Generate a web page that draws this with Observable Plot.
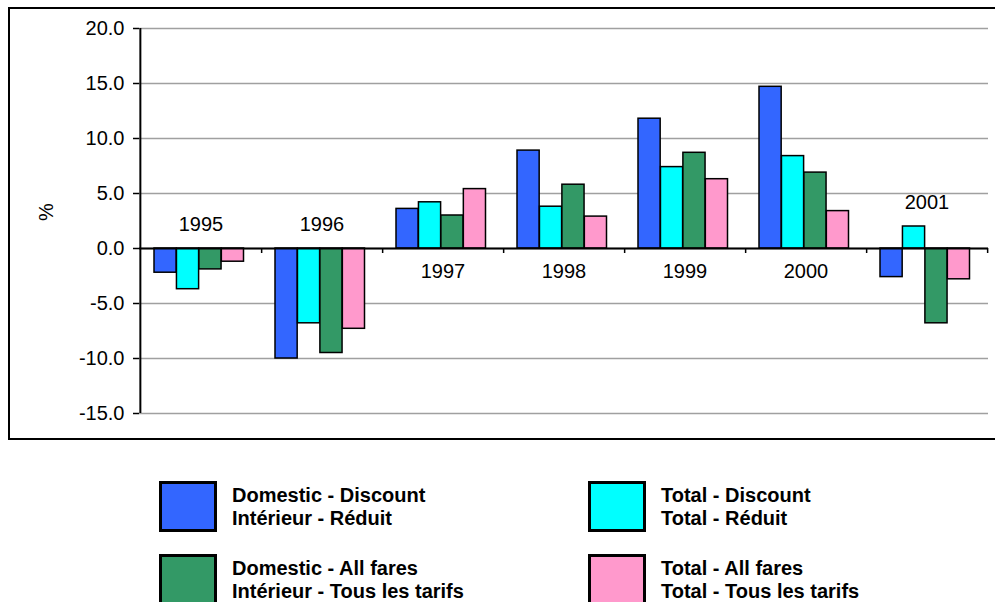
<!DOCTYPE html>
<html>
<head>
<meta charset="utf-8">
<script src="https://cdn.jsdelivr.net/npm/d3@7"></script>
<script src="https://cdn.jsdelivr.net/npm/@observablehq/plot@0.6"></script>
<style>
  html, body { margin: 0; padding: 0; background: #fff; }
  body { width: 995px; height: 602px; position: relative; overflow: hidden; font-family: "Liberation Sans", Arial, sans-serif; }
  #frame { position: absolute; left: 8px; top: 7px; width: 1000px; height: 429px; border: 2px solid #000; border-right: none; box-sizing: content-box; }
  #chart { position: absolute; left: 0; top: 0; }
  .sw { position: absolute; width: 58px; height: 51px; box-sizing: border-box; border: 3px solid #000; }
  .lt { position: absolute; font-weight: bold; font-size: 20px; line-height: 23.3px; color: #000; white-space: nowrap; }
</style>
</head>
<body>
<div id="frame"></div>
<div id="chart"></div>
<div id="legend"></div>
<script>
// ---- data ----
const years = ["1995", "1996", "1997", "1998", "1999", "2000", "2001"];
const domesticDiscount = [-2.2, -10.0, 3.6, 8.9, 11.8, 14.7, -2.6];
const totalDiscount    = [-3.7, -6.8, 4.2, 3.8, 7.4, 8.4, 2.0];
const domesticAllFares = [-1.9, -9.5, 3.0, 5.8, 8.7, 6.9, -6.8];
const totalAllFares    = [-1.2, -7.3, 5.4, 2.9, 6.3, 3.4, -2.8];
const seriesNames = ["Domestic - Discount", "Total - Discount", "Domestic - All fares", "Total - All fares"];
const seriesLabelsEn = ["Domestic - Discount", "Total - Discount", "Domestic - All fares", "Total - All fares"];
const seriesLabelsFr = ["Intérieur - Réduit", "Total - Réduit", "Intérieur - Tous les tarifs", "Total - Tous les tarifs"];
const seriesColors = ["#3366FF", "#00FFFF", "#339966", "#FF99CC"];
const yTicks = [-15, -10, -5, 0, 5, 10, 15, 20];
const yAxisLabel = "%";

// ---- build table ----
const seriesValues = [domesticDiscount, totalDiscount, domesticAllFares, totalAllFares];
const rows = [];
seriesValues.forEach((vals, s) => vals.forEach((v, i) => rows.push({year: years[i], series: seriesNames[s], si: s, value: v})));

const groups = years.map((y, i) => {
  const vals = seriesValues.map(a => a[i]);
  return {year: y, min: d3.min(vals), max: d3.max(vals)};
});
const above = groups.filter(g => g.min < 0).map(g => ({year: g.year, y: Math.max(0, g.max)}));
const below = groups.filter(g => g.min >= 0).map(g => ({year: g.year, y: 0}));

// ---- layout ----
const W = 995, H = 445, mL = 139, mR = 7, mT = 28, mB = 32;
const bw = (W - mL - mR) / years.length;
const padL = 14, padR = 17.5;
const barW = (bw - padL - padR) / 4;

const barMarks = seriesNames.map((name, s) =>
  Plot.barY(rows.filter(r => r.si === s), {
    x: "year", y: "value",
    fill: seriesColors[s], stroke: "#000", strokeWidth: 1.5,
    insetLeft: padL + s * barW,
    insetRight: bw - padL - (s + 1) * barW
  })
);

const chart = Plot.plot({
  width: W, height: H,
  marginLeft: mL, marginRight: mR, marginTop: mT, marginBottom: mB,
  style: {fontFamily: "'Liberation Sans', Arial, sans-serif", fontSize: "20px", background: "transparent", color: "#000", overflow: "visible"},
  x: {domain: years, padding: 0, axis: null},
  y: {domain: [-15, 20], axis: null},
  marks: [
    Plot.ruleY(yTicks, {stroke: "#a0a0a0", strokeWidth: 1.5}),
    ...barMarks,
    Plot.ruleY([0], {stroke: "#000", strokeWidth: 2}),
    Plot.ruleX(years, {x: d => d, y1: 0, y2: 0, insetBottom: -5, dx: bw / 2, stroke: "#000", strokeWidth: 1.5}),
    Plot.ruleX([years[0]], {x: d => d, dx: -bw / 2, stroke: "#000", strokeWidth: 2}),
    Plot.axisY({ticks: yTicks, tickFormat: d => d.toFixed(1), tickSize: 6, tickPadding: 9, label: null, fontSize: 20, strokeWidth: 1.5}),
    Plot.text([yAxisLabel], {frameAnchor: "left", dx: -93, rotate: -90, fontSize: 20, fill: "#000"}),
    Plot.text(above, {x: "year", y: "y", text: "year", dy: -24, fontSize: 20, fill: "#000"}),
    Plot.text(below, {x: "year", y: "y", text: "year", dy: 23, fontSize: 20, fill: "#000"})
  ]
});
document.getElementById("chart").appendChild(chart);

// ---- legend ----
const legend = document.getElementById("legend");
const swX = [159, 588], txX = [232, 661], swY = [481, 554], txY = [484, 557];
seriesNames.forEach((name, s) => {
  const col = s === 0 || s === 2 ? 0 : 1;
  const row = s < 2 ? 0 : 1;
  const sw = document.createElement("div");
  sw.className = "sw";
  sw.style.left = swX[col] + "px";
  sw.style.top = swY[row] + "px";
  sw.style.background = seriesColors[s];
  legend.appendChild(sw);
  const t = document.createElement("div");
  t.className = "lt";
  t.style.left = txX[col] + "px";
  t.style.top = txY[row] + "px";
  t.innerHTML = seriesLabelsEn[s] + "<br>" + seriesLabelsFr[s];
  legend.appendChild(t);
});
</script>
</body>
</html>
